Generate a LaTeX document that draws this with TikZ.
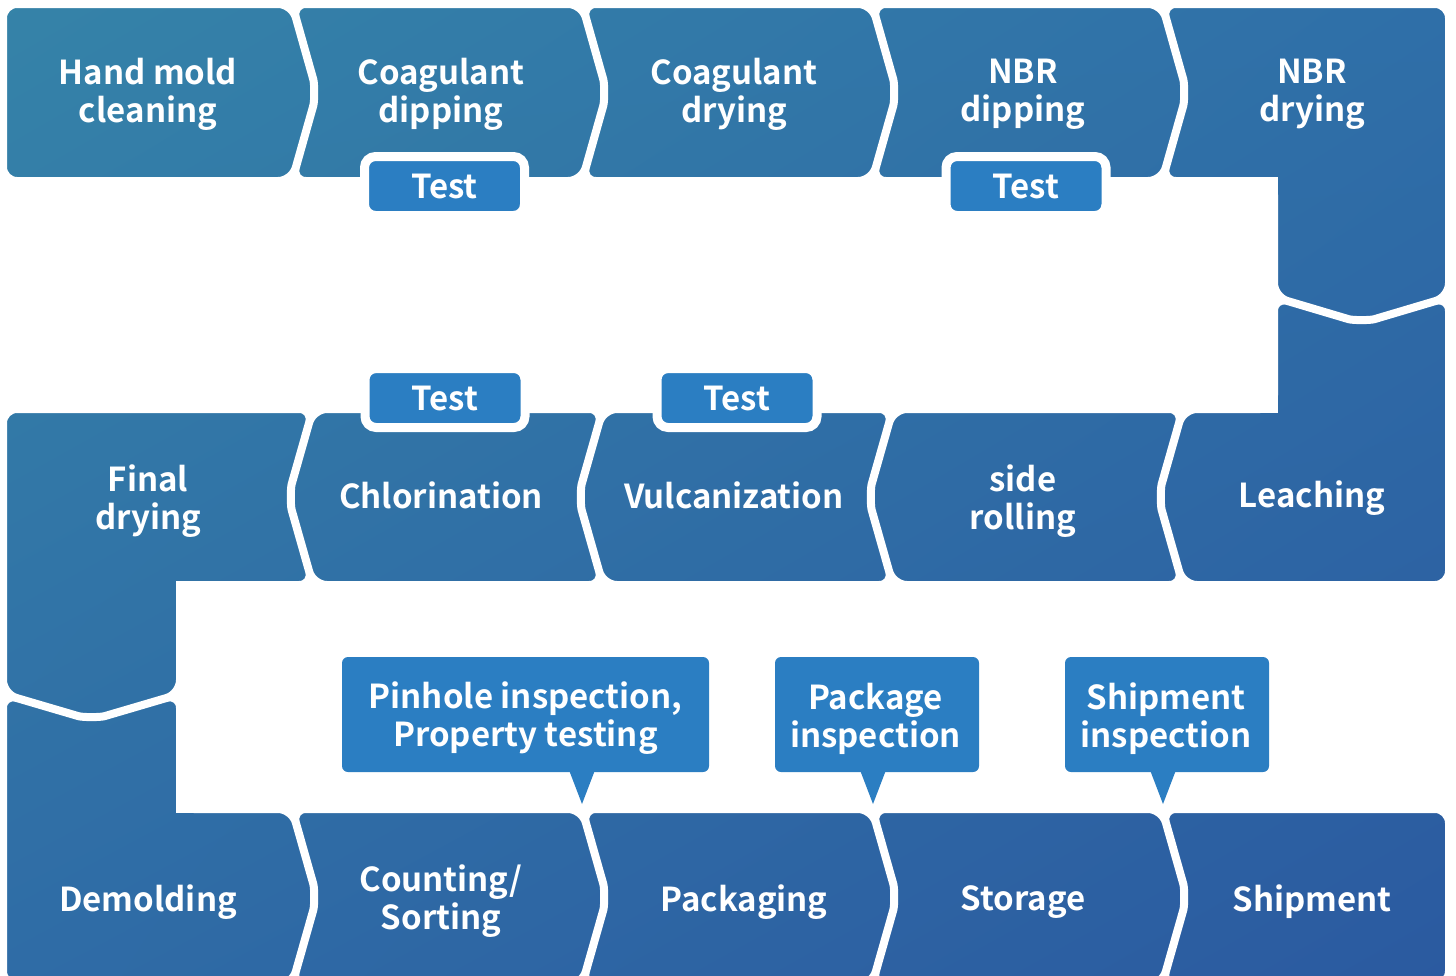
\documentclass[tikz,border=0pt]{standalone}
\usepackage{fontspec}
\usetikzlibrary{shadings}
\newfontfamily\lab{Noto Sans CJK SC}[BoldFont={Noto Sans CJK SC Bold}]
\definecolor{tabblue}{HTML}{2B7EC2}
\definecolor{gUL}{HTML}{3583A8}
\definecolor{gUR}{HTML}{2F6FA8}
\definecolor{gLL}{HTML}{2F6CA6}
\definecolor{gLR}{HTML}{2B5AA0}
% separator going down (current point = (#1,#2))
\newcommand\sepD[4]{-- ({#1+0.7*(#4)},{#2+0.35*(#3-#2)}) .. controls ({#1+0.9*(#4)},{#2+0.45*(#3-#2)}) and ({#1+0.9*(#4)},{#3-0.45*(#3-#2)}) .. ({#1+0.7*(#4)},{#3-0.35*(#3-#2)}) -- (#1,#3)}
% separator going up (current point = (#1,#3))
\newcommand\sepU[4]{-- ({#1+0.7*(#4)},{#3-0.35*(#3-#2)}) .. controls ({#1+0.9*(#4)},{#3-0.45*(#3-#2)}) and ({#1+0.9*(#4)},{#2+0.45*(#3-#2)}) .. ({#1+0.7*(#4)},{#2+0.35*(#3-#2)}) -- (#1,#2)}
% V separator leftwards (current point = (#2,#3))
\newcommand\vL[4]{-- ({#2-0.35*(#2-#1)},{#3+0.7*(#4)}) .. controls ({#2-0.45*(#2-#1)},{#3+0.9*(#4)}) and ({#1+0.45*(#2-#1)},{#3+0.9*(#4)}) .. ({#1+0.35*(#2-#1)},{#3+0.7*(#4)}) -- (#1,#3)}
% V separator rightwards (current point = (#1,#3))
\newcommand\vR[4]{-- ({#1+0.35*(#2-#1)},{#3+0.7*(#4)}) .. controls ({#1+0.45*(#2-#1)},{#3+0.9*(#4)}) and ({#2-0.45*(#2-#1)},{#3+0.9*(#4)}) .. ({#2-0.35*(#2-#1)},{#3+0.7*(#4)}) -- (#2,#3)}
\newcommand\allpieces{%
(150,4) -- (292,4) \sepD{292}{4}{181}{25} -- (3,181) -- (3,4) -- cycle
(440,4) -- (582,4) \sepD{582}{4}{181}{25} -- (292,181) \sepU{292}{4}{181}{25} -- cycle
(730,4) -- (872,4) \sepD{872}{4}{181}{25} -- (582,181) \sepU{582}{4}{181}{25} -- cycle
(1020,4) -- (1162,4) \sepD{1162}{4}{181}{25} -- (872,181) \sepU{872}{4}{181}{25} -- cycle
(1300,4) -- (1449,4) -- (1449,297) \vL{1274}{1449}{297}{26} -- (1274,181) -- (1162,181) \sepU{1162}{4}{181}{25} -- cycle
(1274,350) -- (1274,297) \vR{1274}{1449}{297}{26} -- (1449,585) -- (1183,585) \sepU{1183}{409}{585}{-25} -- (1274,409) -- cycle
(1040,409) -- (1183,409) \sepD{1183}{409}{585}{-25} -- (893,585) \sepU{893}{409}{585}{-25} -- cycle
(750,409) -- (893,409) \sepD{893}{409}{585}{-25} -- (603,585) \sepU{603}{409}{585}{-25} -- cycle
(460,409) -- (603,409) \sepD{603}{409}{585}{-25} -- (313,585) \sepU{313}{409}{585}{-25} -- cycle
(150,409) -- (313,409) \sepD{313}{409}{585}{-25} -- (180,585) -- (180,694) \vL{3}{180}{694}{26} -- (3,409) -- cycle
(3,800) -- (3,694) \vR{3}{180}{694}{26} -- (180,809) -- (292,809) \sepD{292}{809}{985}{25} -- (3,985) -- cycle
(440,809) -- (582,809) \sepD{582}{809}{985}{25} -- (292,985) \sepU{292}{809}{985}{25} -- cycle
(730,809) -- (872,809) \sepD{872}{809}{985}{25} -- (582,985) \sepU{582}{809}{985}{25} -- cycle
(1020,809) -- (1162,809) \sepD{1162}{809}{985}{25} -- (872,985) \sepU{872}{809}{985}{25} -- cycle
(1300,809) -- (1449,809) -- (1449,985) -- (1162,985) \sepU{1162}{809}{985}{25} -- cycle}
\tikzset{
  lbl/.style={text=white, font=\lab\bfseries\fontsize{33}{38}\selectfont, align=center, inner sep=0pt},
  testtab/.style={fill=tabblue, draw=white, line width=9pt, rounded corners=11pt,
    minimum width=160pt, minimum height=59pt, inner sep=0pt, text=white,
    text height=26pt, text depth=0.2pt,
    font=\lab\bfseries\fontsize{33}{38}\selectfont},
  calloutbox/.style={fill=tabblue, rounded corners=6pt, inner sep=0pt, minimum height=115pt},
}
\begin{document}
\begin{tikzpicture}[x=1pt,y=-1pt]
\useasboundingbox (0,0) rectangle (1456,975);
\clip (0,0) rectangle (1456,975);
% gradient-filled process band
\begin{scope}
  \clip[rounded corners=14pt] \allpieces;
  \shade[upper left=gUL, upper right=gUR, lower left=gLL, lower right=gLR] (0,0) rectangle (1456,975);
\end{scope}
\draw[white, line width=8pt, rounded corners=14pt] \allpieces;
% sharp inner (concave) corners
\fill[white] (1250,177) rectangle (1278,205);
\fill[white] (1250,385) rectangle (1278,413);
\fill[white] (176,581) rectangle (204,609);
\fill[white] (176,785) rectangle (204,813);
% step labels
\node[lbl] (n1) at (148,94) {Hand mold\\cleaning};
\node[lbl] (n2) at (441,94) {Coagulant\\dipping};
\node[lbl] (n3) at (734,94) {Coagulant\\drying};
\node[lbl] (n4) at (1023,94) {NBR\\dipping};
\node[lbl] (n5) at (1312,94) {NBR\\drying};
\node[lbl] (n6) at (1312,498) {Leaching};
\node[lbl] (n7) at (1023,501) {side\\rolling};
\node[lbl] (n8) at (734,495) {Vulcanization};
\node[lbl] (n9) at (441,495) {Chlorination};
\node[lbl] (n10) at (148,501) {Final\\drying};
\node[lbl] (n11) at (148,902) {Demolding};
\node[lbl] (n12) at (441,901) {Counting/\\Sorting};
\node[lbl] (n13) at (744,902) {Packaging};
\node[lbl] (n14) at (1023,902) {Storage};
\node[lbl] (n15) at (1312,902) {Shipment};
% test tabs
\node[testtab] (t1) at (444.5,186) {Test};
\node[testtab] (t2) at (1026,186) {Test};
\node[testtab] (t3) at (445,398) {Test};
\node[testtab] (t4) at (737,398) {Test};
% callouts
\node[calloutbox, minimum width=367pt] (c1) at (525.5,714.5) {};
\node[calloutbox, minimum width=204pt] (c2) at (877,714.5) {};
\node[calloutbox, minimum width=204pt] (c3) at (1167,714.5) {};
\node[lbl] (c1t) at (525.5,718.5) {Pinhole inspection,\\Property testing};
\node[lbl] (c2t) at (875.5,718.5) {Package\\inspection};
\node[lbl] (c3t) at (1166,718.5) {Shipment\\inspection};
\coordinate (p1) at (582,804);
\coordinate (p2) at (873,804);
\coordinate (p3) at (1163,804);
\fill[tabblue] (569,770) -- (p1) -- (595,770) -- cycle;
\fill[tabblue] (860,770) -- (p2) -- (886,770) -- cycle;
\fill[tabblue] (1150,770) -- (p3) -- (1176,770) -- cycle;
\end{tikzpicture}
\end{document}
